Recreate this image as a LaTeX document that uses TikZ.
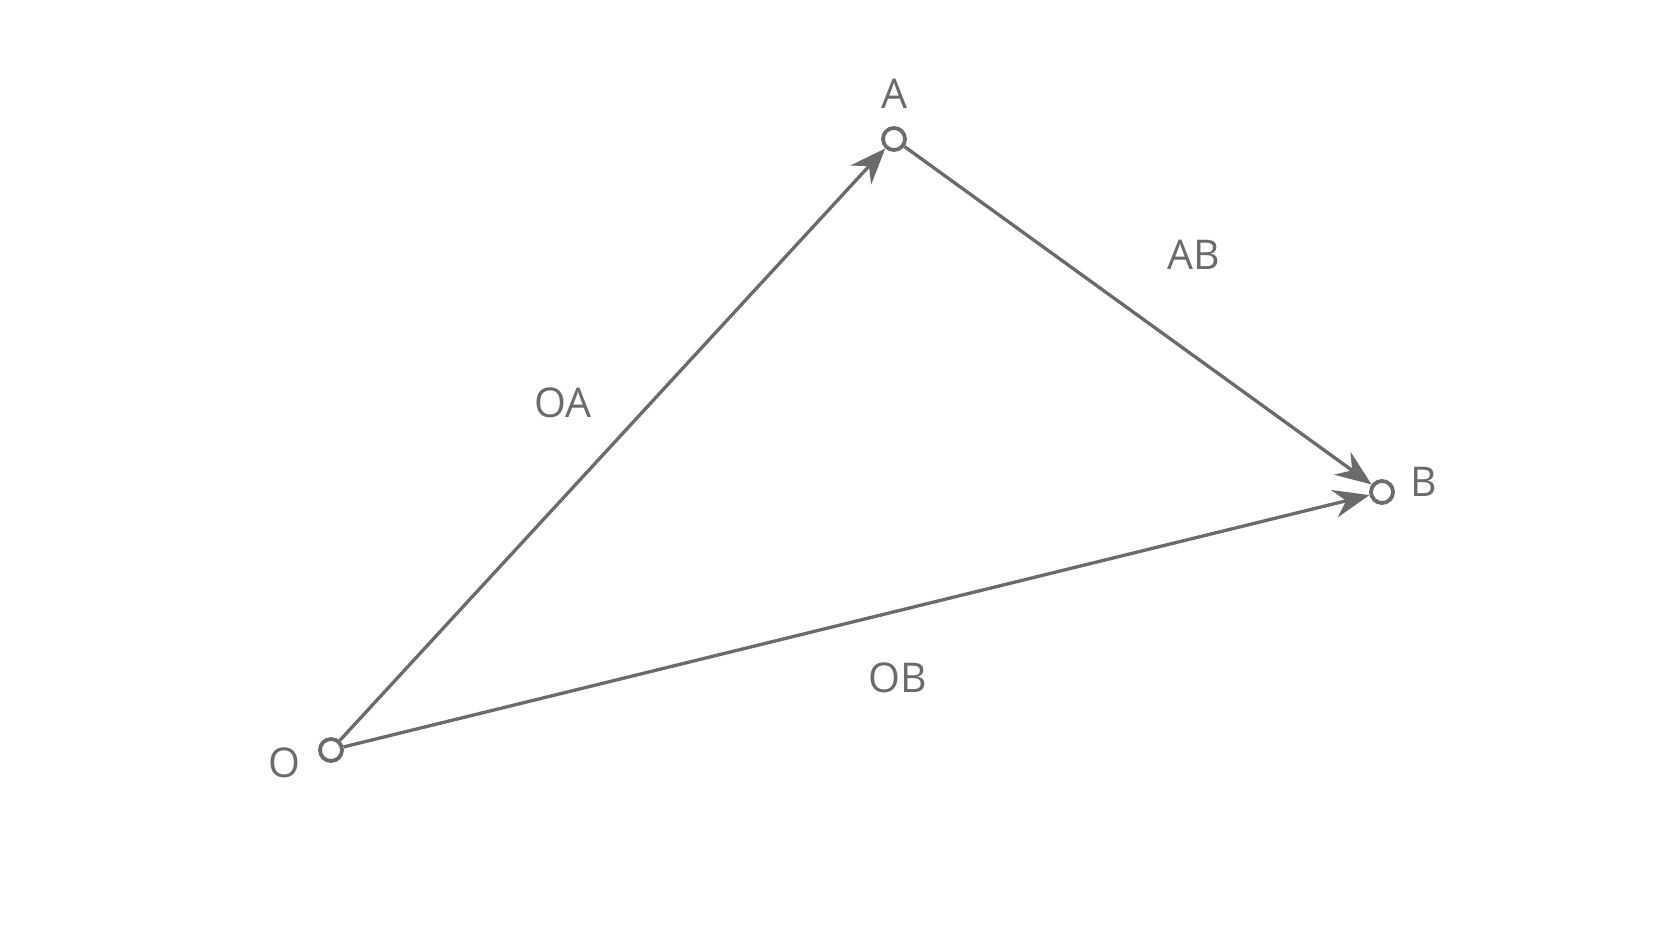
\documentclass[tikz,border=0pt]{standalone}
\usepackage{fontspec}
\setmainfont{Open Sans}
\usetikzlibrary{arrows.meta}
\definecolor{ink}{HTML}{6B6B6E}
\begin{document}
\begin{tikzpicture}[x=1pt,y=-1pt,
  pt/.style={circle,draw=ink,line width=3.8pt,fill=white,minimum size=22pt,inner sep=0pt},
  lbl/.style={text=ink,font=\fontsize{41}{41}\selectfont,inner sep=0pt},
  vec/.style={draw=ink,line width=3.3pt,-{Stealth[length=36pt,width=28pt,inset=12pt]},shorten >=0pt}]
\useasboundingbox (0,0) rectangle (1672,941);
\fill[white] (0,0) rectangle (1672,941);
\node[pt] (O) at (331,750) {};
\node[pt] (A) at (894,139) {};
\node[pt] (B) at (1382,492) {};
\node[lbl] (lO) at (284,763) {O};
\node[lbl] (lA) at (894,94) {A};
\node[lbl] (lB) at (1424,482) {B};
\draw[vec] (O) -- (A);
\draw[vec] (A) -- (B);
\draw[vec] (O) -- (B);
\node[lbl] (lOA) at (563,403) {OA};
\node[lbl] (lAB) at (1194,255) {AB};
\node[lbl] (lOB) at (898,678) {OB};
\end{tikzpicture}
\end{document}
